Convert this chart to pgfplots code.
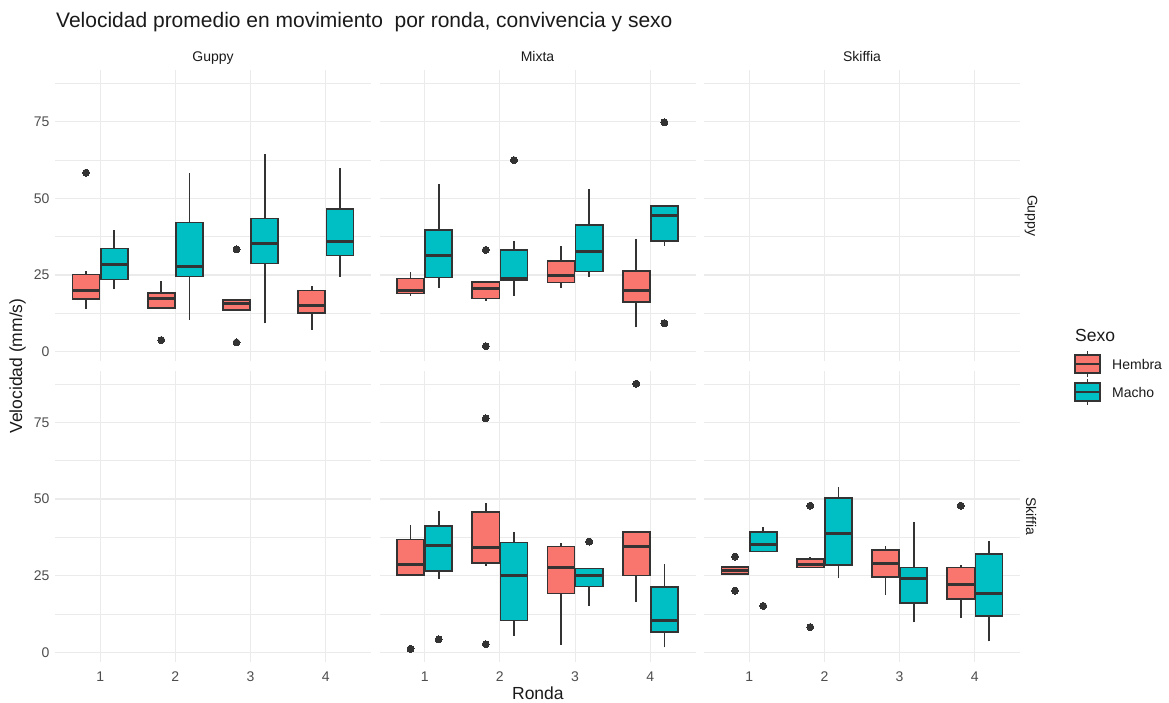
\documentclass[border=0pt]{standalone}
\usepackage{pgfplots}
\pgfplotsset{compat=1.18}
\usepackage{fontspec}
\setmainfont{Liberation Sans}

\definecolor{hembra}{HTML}{F8766D}
\definecolor{macho}{HTML}{00BFC4}
\definecolor{linea}{HTML}{333333}
\definecolor{rejilla}{HTML}{EBEBEB}
\definecolor{eje}{HTML}{4D4D4D}
\definecolor{texto}{HTML}{1A1A1A}

\newcommand{\fticks}{\fontsize{14}{16}\selectfont}
\newcommand{\ftitulo}{\fontsize{17.5}{20}\selectfont}

\pgfplotsset{
  panel/.style={
    anchor=south west, scale only axis,
    width=316pt, height=291.5pt,
    xmin=0.4, xmax=4.6, ymin=-3.2, ymax=91.9,
    xtick={1,2,3,4}, ytick={0,25,50,75},
    minor ytick={12.5,37.5,62.5,87.5},
    xticklabels={}, yticklabels={},
    grid=both,
    major grid style={line width=1.2pt, draw=rejilla},
    minor grid style={line width=0.7pt, draw=rejilla},
    axis line style={draw=none},
    major tick length=0pt, minor tick length=0pt,
    tick label style={font=\fticks, text=eje},
  },
  izq/.style={yticklabels={0,25,50,75}, yticklabel style={xshift=-2pt}},
  abajo/.style={xticklabels={1,2,3,4}, xticklabel style={yshift=-6pt}},
  bigote/.style={draw=linea, line width=1.6pt, mark=none},
  caja/.style={draw=linea, line width=1.6pt, mark=none, line join=miter},
  mediana/.style={draw=linea, line width=3pt, mark=none},
  atipico/.style={only marks, mark=*, mark size=3.5pt,
    mark options={fill=linea, draw=linea, line width=0pt}},
}

% one box: fill, position, lower whisker, Q1, median, Q3, upper whisker, outliers
\newcommand{\caja}[8]{%
  \pgfmathsetmacro{\xa}{#2-0.18}\pgfmathsetmacro{\xb}{#2+0.18}%
  \edef\dibujar{%
    \noexpand\addplot[bigote] coordinates {(#2,#3) (#2,#7)};
    \noexpand\addplot[caja, fill=#1] coordinates {(\xa,#4) (\xb,#4) (\xb,#6) (\xa,#6)} -- cycle;
    \noexpand\addplot[mediana] coordinates {(\xa,#5) (\xb,#5)};
  }\dibujar
  \if\relax\detokenize{#8}\relax\else
    \addplot[atipico] coordinates {#8};
  \fi}

\begin{document}
\begin{tikzpicture}
\useasboundingbox (0pt,0pt) rectangle (1169pt,702pt);

% ---- Especie Guppy, convivencia Guppy
\begin{axis}[panel, izq, at={(55pt,340.5pt)}]
\caja{hembra}{0.8125}{13.9}{17.1}{20.1}{25.2}{26.4}{(0.8125,58.4)}
\caja{macho}{1.1875}{20.3}{23.6}{28.5}{33.7}{39.7}{}
\caja{hembra}{1.8125}{14.1}{14.2}{17.4}{19.2}{23.0}{(1.8125,3.8)}
\caja{macho}{2.1875}{10.5}{24.5}{27.7}{42.2}{58.4}{}
\caja{hembra}{2.8125}{13.4}{13.6}{15.7}{16.8}{16.8}{(2.8125,33.4) (2.8125,3.0)}
\caja{macho}{3.1875}{9.2}{28.8}{35.3}{43.5}{64.5}{}
\caja{hembra}{3.8125}{7.1}{12.7}{15.2}{20.0}{21.5}{}
\caja{macho}{4.1875}{24.5}{31.4}{35.9}{46.6}{60.0}{}
\end{axis}

% ---- Especie Guppy, convivencia Mixta
\begin{axis}[panel, at={(379.5pt,340.5pt)}]
\caja{hembra}{0.8125}{18.2}{19.0}{19.9}{23.9}{25.9}{}
\caja{macho}{1.1875}{20.8}{24.2}{31.3}{39.7}{54.8}{}
\caja{hembra}{1.8125}{16.6}{17.4}{20.5}{22.7}{23.2}{(1.8125,33.2) (1.8125,1.8)}
\caja{macho}{2.1875}{18.2}{23.3}{23.8}{33.2}{36.0}{(2.1875,62.5)}
\caja{hembra}{2.8125}{20.7}{22.6}{24.9}{29.5}{34.5}{}
\caja{macho}{3.1875}{24.5}{26.2}{32.8}{41.3}{53.2}{}
\caja{hembra}{3.8125}{7.9}{16.3}{19.9}{26.3}{36.7}{}
\caja{macho}{4.1875}{34.5}{36.1}{44.3}{47.6}{47.6}{(4.1875,74.8) (4.1875,9.3)}
\end{axis}

% ---- Especie Guppy, convivencia Skiffia (sin datos)
\begin{axis}[panel, at={(704pt,340.5pt)}]
\end{axis}

% ---- Especie Skiffia, convivencia Guppy (sin datos)
\begin{axis}[panel, izq, abajo, at={(55pt,40pt)}]
\end{axis}

% ---- Especie Skiffia, convivencia Mixta
\begin{axis}[panel, abajo, at={(379.5pt,40pt)}]
\caja{hembra}{0.8125}{25.2}{25.2}{28.6}{36.8}{41.6}{(0.8125,1.1)}
\caja{macho}{1.1875}{24.0}{26.4}{34.8}{41.1}{46.1}{(1.1875,4.2)}
\caja{hembra}{1.8125}{28.2}{29.1}{34.1}{45.7}{48.6}{(1.8125,76.3) (1.8125,2.6)}
\caja{macho}{2.1875}{5.3}{10.4}{25.0}{35.8}{39.3}{}
\caja{hembra}{2.8125}{2.4}{19.2}{27.6}{34.5}{35.5}{}
\caja{macho}{3.1875}{15.1}{21.4}{25.0}{27.3}{27.3}{(3.1875,36.1)}
\caja{hembra}{3.8125}{16.3}{25.0}{34.5}{39.3}{39.6}{(3.8125,87.6)}
\caja{macho}{4.1875}{1.6}{6.6}{10.5}{21.2}{28.8}{}
\end{axis}

% ---- Especie Skiffia, convivencia Skiffia
\begin{axis}[panel, abajo, at={(704pt,40pt)}]
\caja{hembra}{0.8125}{25.5}{25.5}{26.6}{27.7}{27.7}{(0.8125,31.2) (0.8125,20.1)}
\caja{macho}{1.1875}{32.6}{32.8}{35.0}{39.2}{40.7}{(1.1875,15.1)}
\caja{hembra}{1.8125}{27.4}{27.6}{28.6}{30.5}{31.1}{(1.8125,47.8) (1.8125,8.2)}
\caja{macho}{2.1875}{24.1}{28.5}{38.8}{50.3}{54.0}{}
\caja{hembra}{2.8125}{18.6}{24.6}{29.0}{33.3}{34.7}{}
\caja{macho}{3.1875}{9.7}{16.1}{24.1}{27.6}{42.6}{}
\caja{hembra}{3.8125}{11.1}{17.3}{22.2}{27.6}{28.3}{(3.8125,47.8)}
\caja{macho}{4.1875}{3.5}{11.8}{19.2}{32.1}{36.3}{}
\end{axis}

% ---- titles and strip labels
\node[anchor=base west, inner sep=0pt, text=texto, font=\fontsize{21}{24}\selectfont] at (56pt,674.3pt)
  {Velocidad promedio en movimiento\ \ por ronda, convivencia y sexo};
\begin{scope}[every node/.style={inner sep=0pt, text=texto, font=\fticks}]
\node[anchor=base] at (213pt,640.3pt) {Guppy};
\node[anchor=base] at (537.5pt,640.3pt) {Mixta};
\node[anchor=base] at (862pt,640.3pt) {Skiffia};
\node[rotate=-90] at (1031pt,486.3pt) {Guppy};
\node[rotate=-90] at (1031pt,186pt) {Skiffia};
\end{scope}
\node[anchor=base, inner sep=0pt, text=texto, font=\ftitulo] at (537.9pt,2.3pt) {Ronda};
\node[inner sep=0pt, rotate=90, text=texto, font=\ftitulo] at (17.5pt,336pt) {Velocidad (mm/s)};

% ---- legend
\node[anchor=west, inner sep=0pt, text=texto, font=\ftitulo] at (1075pt,367pt) {Sexo};
\foreach \yc/\col/\lab in {338/hembra/Hembra, 310/macho/Macho}{
  \draw[linea, line width=1.5pt] (1087.5pt,\yc pt-13pt) -- (1087.5pt,\yc pt+13pt);
  \draw[linea, line width=1.5pt, fill=\col] (1075pt,\yc pt-9pt) rectangle (1100pt,\yc pt+9pt);
  \draw[linea, line width=2.2pt] (1075pt,\yc pt) -- (1100pt,\yc pt);
  \node[anchor=west, inner sep=0pt, text=texto, font=\fticks] at (1112pt,\yc pt) {\lab};
}
\end{tikzpicture}
\end{document}
